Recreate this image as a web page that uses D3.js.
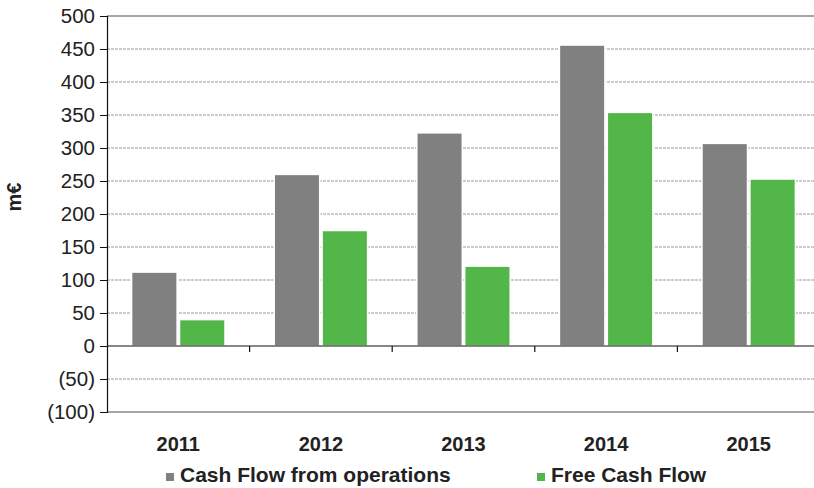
<!DOCTYPE html>
<html>
<head>
<meta charset="utf-8">
<script src="https://cdn.jsdelivr.net/npm/d3@7"></script>
<style>
  body { margin: 0; background: #fff; }
  text { font-family: "Liberation Sans", Arial, sans-serif; fill: #222; }
</style>
</head>
<body>
<div id="chart"></div>
<script>
var years = ["2011", "2012", "2013", "2014", "2015"];
var seriesNames = ["Cash Flow from operations", "Free Cash Flow"];
var cashFlowOps = [112, 260, 323, 456, 307];
var freeCashFlow = [40, 175, 121, 354, 253];
var yTicks = [-100, -50, 0, 50, 100, 150, 200, 250, 300, 350, 400, 450, 500];
var colors = ["#808080", "#52b748"];

var width = 814, height = 488;
var margin = {top: 16, right: -6, bottom: 76, left: 107};
var innerW = width - margin.left - margin.right;
var innerH = height - margin.top - margin.bottom;

var svg = d3.select("#chart").append("svg")
  .attr("width", width)
  .attr("height", height);

var g = svg.append("g")
  .attr("transform", "translate(" + margin.left + "," + margin.top + ")");

var x0 = d3.scaleBand().domain(years).range([0, innerW]);
var groupW = x0.bandwidth() * 0.655;
var x1 = d3.scaleBand().domain(seriesNames)
  .range([(x0.bandwidth() - groupW) / 2, (x0.bandwidth() + groupW) / 2])
  .paddingInner(0.05);
var y = d3.scaleLinear().domain([-100, 500]).range([innerH, 0]);

var fmt = function (v) { return v < 0 ? "(" + Math.abs(v) + ")" : String(v); };

// gridlines
g.selectAll(".grid").data(yTicks.filter(function (v) { return v !== 0 && v !== 500 && v !== -100; }))
  .enter().append("line")
  .attr("x1", 0).attr("x2", innerW)
  .attr("y1", function (d) { return y(d); })
  .attr("y2", function (d) { return y(d); })
  .attr("stroke", "#999")
  .attr("stroke-width", 1)
  .attr("stroke-dasharray", "3,1");

// top and bottom frame
g.append("line").attr("x1", 0).attr("x2", innerW)
  .attr("y1", y(500)).attr("y2", y(500))
  .attr("stroke", "#888").attr("stroke-width", 1.5);
g.append("line").attr("x1", 0).attr("x2", innerW)
  .attr("y1", y(-100)).attr("y2", y(-100))
  .attr("stroke", "#888").attr("stroke-width", 1.5);

// bars
var rows = years.map(function (yr, i) {
  return {year: yr, values: [cashFlowOps[i], freeCashFlow[i]]};
});

var grp = g.selectAll(".grp").data(rows).enter().append("g")
  .attr("transform", function (d) { return "translate(" + x0(d.year) + ",0)"; });

grp.selectAll("rect").data(function (d) {
    return d.values.map(function (v, j) { return {name: seriesNames[j], value: v, idx: j}; });
  })
  .enter().append("rect")
  .attr("x", function (d) { return x1(d.name); })
  .attr("width", x1.bandwidth())
  .attr("y", function (d) { return y(Math.max(0, d.value)); })
  .attr("height", function (d) { return Math.abs(y(d.value) - y(0)); })
  .attr("fill", function (d) { return colors[d.idx]; })
  .attr("stroke", "#fff")
  .attr("stroke-width", 1.5);

// zero line with category ticks
g.append("line").attr("x1", 0).attr("x2", innerW)
  .attr("y1", y(0)).attr("y2", y(0))
  .attr("stroke", "#111").attr("stroke-width", 1.2);
g.selectAll(".ctick").data(years.slice(1)).enter().append("line")
  .attr("x1", function (d) { return x0(d); })
  .attr("x2", function (d) { return x0(d); })
  .attr("y1", y(0)).attr("y2", y(0) + 6)
  .attr("stroke", "#111").attr("stroke-width", 1.2);

// y axis
var yAxis = d3.axisLeft(y).tickValues(yTicks).tickFormat(fmt).tickSize(7).tickPadding(5);
var ya = g.append("g").call(yAxis);
ya.select(".domain").attr("stroke", "#111").attr("stroke-width", 1.2);
ya.selectAll(".tick line").attr("stroke", "#111");
ya.selectAll(".tick text")
  .attr("font-size", 20.5)
  .attr("fill", "#222");

// y label
svg.append("text")
  .attr("transform", "translate(21,197) rotate(-90)")
  .attr("text-anchor", "middle")
  .attr("font-size", 20)
  .attr("font-weight", "bold")
  .text("m€");

// x labels
g.selectAll(".xlab").data(years).enter().append("text")
  .attr("x", function (d) { return x0(d) + x0.bandwidth() / 2; })
  .attr("y", 451 - margin.top)
  .attr("text-anchor", "middle")
  .attr("font-size", 20)
  .attr("font-weight", "bold")
  .text(function (d) { return d; });

// legend
var legendX = [166, 537];
var leg = svg.selectAll(".leg").data(seriesNames).enter().append("g")
  .attr("transform", function (d, i) { return "translate(" + legendX[i] + ",482)"; });
leg.append("rect")
  .attr("x", 0).attr("y", -9).attr("width", 8).attr("height", 8)
  .attr("fill", function (d, i) { return colors[i]; });
leg.append("text")
  .attr("x", 14).attr("y", 0)
  .attr("font-size", 21)
  .attr("font-weight", "bold")
  .text(function (d) { return d; });
</script>
</body>
</html>
